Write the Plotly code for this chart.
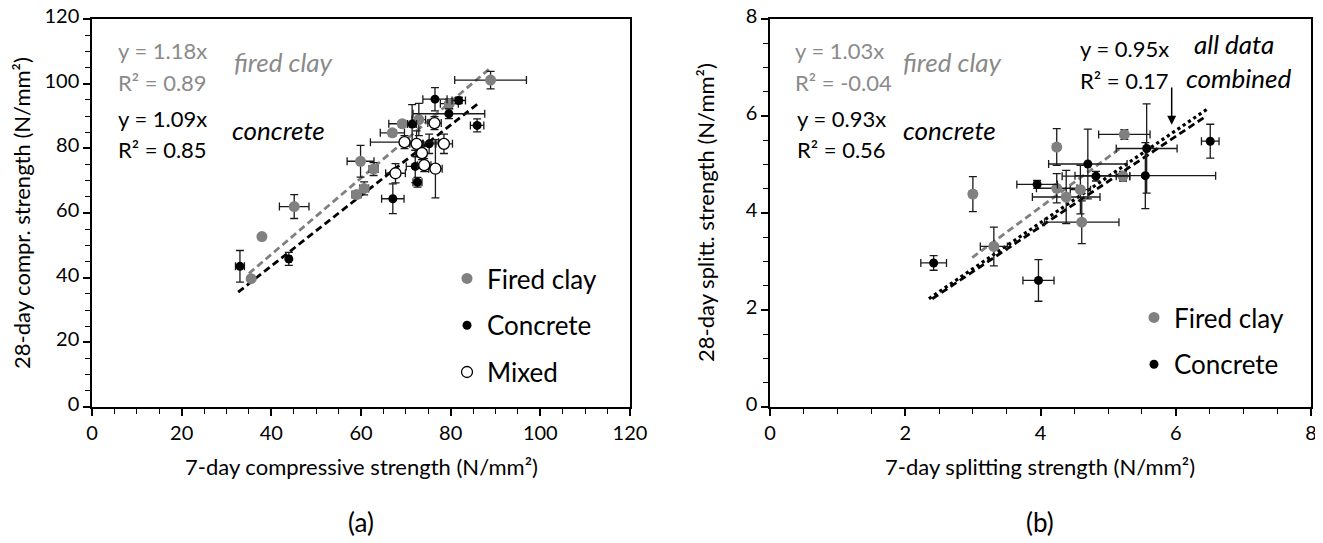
import plotly.graph_objects as go

# page is 1323x543, the html body adds an 8px margin
OFF = 8
W, H = 1323 - OFF, 543 - OFF


def fx(p):
    return (p - OFF) / W


def fy(p):
    return 1 - (p - OFF) / H


# ---- panel (a): compressive strength ----
fc_a_x = [88.9, 79.7, 72.9, 69.2, 67.0, 59.9, 62.8, 60.7, 59.0, 45.1, 37.9, 35.5]
fc_a_y = [101.1, 93.8, 88.9, 87.6, 84.8, 76.0, 73.6, 67.6, 65.7, 62.0, 52.7, 39.7]
fc_a_xe = [8.0, 2.0, 1.5, 3.0, 2.7, 3.0, 1.0, 1.0, 1.0, 3.3, 0.5, 0.5]
fc_a_ye = [2.7, 1.5, 5.0, 1.0, 1.0, 4.9, 2.0, 2.0, 1.0, 3.7, 0.5, 0.5]

con_a_x = [33.0, 43.9, 76.5, 81.8, 79.6, 71.4, 85.9, 75.2, 72.1, 72.6, 67.1]
con_a_y = [43.5, 45.8, 95.2, 94.8, 90.7, 87.5, 87.1, 81.4, 74.4, 69.5, 64.4]
con_a_xe = [1.0, 0.5, 2.7, 1.5, 8.0, 1.0, 1.5, 1.5, 2.0, 1.0, 2.5]
con_a_ye = [4.9, 2.0, 3.6, 1.0, 1.5, 6.0, 2.0, 3.0, 5.0, 1.5, 4.6]

mix_a_x = [76.4, 69.7, 72.4, 78.5, 73.6, 67.7, 74.1, 76.6]
mix_a_y = [87.8, 81.9, 81.4, 81.4, 78.5, 72.3, 74.8, 73.7]
mix_a_xe = [1.5, 7.6, 1.5, 1.9, 1.0, 2.2, 1.5, 1.5]
mix_a_ye = [2.0, 2.0, 4.0, 3.0, 2.0, 3.0, 2.0, 9.0]

# trend lines y = k*x
fit_a_fc_k, fit_a_fc_x = 1.18, [35.0, 89.0]
fit_a_con_k, fit_a_con_x = 1.09, [32.6, 86.2]

# ---- panel (b): splitting strength ----
fc_b_x = [3.0, 3.31, 4.24, 4.38, 4.59, 4.61, 5.22, 5.24, 4.24]
fc_b_y = [4.39, 3.31, 4.51, 4.33, 4.48, 3.81, 4.76, 5.62, 5.36]
fc_b_xe = [0.05, 0.2, 0.3, 0.5, 0.15, 0.55, 0.1, 0.38, 0.05]
fc_b_ye = [0.36, 0.4, 0.3, 0.55, 0.5, 0.44, 0.1, 0.1, 0.38]

con_b_x = [2.42, 3.97, 3.95, 4.70, 4.82, 5.55, 5.57, 6.51]
con_b_y = [2.97, 2.61, 4.59, 5.01, 4.76, 4.77, 5.33, 5.48]
con_b_xe = [0.19, 0.23, 0.3, 0.58, 0.5, 1.04, 0.45, 0.13]
con_b_ye = [0.15, 0.43, 0.08, 0.72, 0.1, 0.68, 0.92, 0.35]

fit_b_fc_k, fit_b_fc_x = 1.03, [2.99, 5.18]
fit_b_con_k, fit_b_con_x = 0.93, [2.40, 6.46]
fit_b_all_k, fit_b_all_x = 0.95, [2.35, 6.46]

GRAY = "#808080"
TXTGRAY = "#8a8a8a"
FONT = "Lato"


def err(vals):
    return dict(type="data", array=vals, visible=True, color="#1a1a1a",
                thickness=1.3, width=4)


def pts(x, y, xe, ye, name, color, xa, ya, legend, line_col=None, size=10):
    return go.Scatter(
        x=x, y=y, mode="markers", name=name,
        error_x=err(xe), error_y=err(ye),
        marker=dict(size=size, color=color,
                    line=dict(width=1.3 if line_col else 0, color=line_col or color)),
        xaxis=xa, yaxis=ya, legend=legend, legendgroup=name + legend,
    )


def fit(xs, k, color, dash, width, xa, ya):
    return go.Scatter(x=xs, y=[k * v for v in xs], mode="lines",
                      line=dict(color=color, dash=dash, width=width),
                      xaxis=xa, yaxis=ya, showlegend=False, hoverinfo="skip")


fig = go.Figure()

fig.add_trace(fit(fit_a_fc_x, fit_a_fc_k, GRAY, "7px,4px", 2.8, "x", "y"))
fig.add_trace(fit(fit_a_con_x, fit_a_con_k, "black", "7px,4px", 2.8, "x", "y"))
fig.add_trace(pts(fc_a_x, fc_a_y, fc_a_xe, fc_a_ye, "Fired clay", GRAY, "x", "y", "legend", size=11))
fig.add_trace(pts(con_a_x, con_a_y, con_a_xe, con_a_ye, "Concrete", "black", "x", "y", "legend", size=9))
fig.add_trace(pts(mix_a_x, mix_a_y, mix_a_xe, mix_a_ye, "Mixed", "white", "x", "y", "legend",
                  line_col="black", size=11))

fig.add_trace(fit(fit_b_fc_x, fit_b_fc_k, GRAY, "7px,4px", 2.8, "x2", "y2"))
fig.add_trace(fit(fit_b_con_x, fit_b_con_k, "black", "7px,4px", 2.8, "x2", "y2"))
fig.add_trace(fit(fit_b_all_x, fit_b_all_k, "black", "dot", 3.2, "x2", "y2"))
fig.add_trace(pts(fc_b_x, fc_b_y, fc_b_xe, fc_b_ye, "Fired clay", GRAY, "x2", "y2", "legend2", size=11))
fig.add_trace(pts(con_b_x, con_b_y, con_b_xe, con_b_ye, "Concrete", "black", "x2", "y2", "legend2", size=9))

tickfont = dict(family=FONT, size=20, color="black")


def axis(domain, rng, dtick, minor, anchor, shift=0):
    return dict(domain=domain, range=rng, dtick=dtick, tick0=0, anchor=anchor,
                showgrid=False, zeroline=False, showline=True, linecolor="black",
                linewidth=1.5, mirror=True, ticks="outside", ticklen=7, tickwidth=1.5,
                tickcolor="black", tickfont=tickfont, ticklabeloverflow="allow",
                ticklabelshift=shift,
                minor=dict(dtick=minor, ticks="outside", ticklen=5, tickwidth=1.3,
                           tickcolor="black", showgrid=False))


legfont = dict(family=FONT, size=26, color="black")

fig.update_layout(
    width=W, height=H,
    margin=dict(l=0, r=0, t=0, b=0, autoexpand=False),
    paper_bgcolor="white", plot_bgcolor="white",
    font=dict(family=FONT, color="black"),
    xaxis=axis([fx(92), fx(630)], [0, 120], 20, 5, "y"),
    yaxis=axis([fy(407), fy(19)], [0, 120], 20, 5, "x", shift=-3),
    xaxis2=axis([fx(770), fx(1311)], [0, 8], 2, 0.5, "y2"),
    yaxis2=axis([fy(407), fy(19)], [0, 8], 2, 0.5, "x2", shift=-3),
    legend=dict(x=fx(447), y=fy(255), xanchor="left", yanchor="top",
                font=legfont, bgcolor="rgba(0,0,0,0)",
                tracegroupgap=10, itemwidth=30),
    legend2=dict(x=fx(1134), y=fy(294), xanchor="left", yanchor="top",
                 font=legfont, bgcolor="rgba(0,0,0,0)",
                 tracegroupgap=10, itemwidth=30),
    showlegend=True,
)

anns = [
    # panel (a)
    ("y = 1.18x", 116, 50, TXTGRAY, False, 22, "left"),
    ("R² = 0.89", 116, 82, TXTGRAY, False, 22, "left"),
    ("fired clay", 232, 62, TXTGRAY, True, 26, "left"),
    ("y = 1.09x", 116, 118, "black", False, 22, "left"),
    ("R² = 0.85", 116, 149, "black", False, 22, "left"),
    ("concrete", 230, 130, "black", True, 26, "left"),
    # panel (b)
    ("y = 1.03x", 793, 50, TXTGRAY, False, 22, "left"),
    ("R² = -0.04", 793, 82, TXTGRAY, False, 22, "left"),
    ("fired clay", 901, 62, TXTGRAY, True, 26, "left"),
    ("y = 0.93x", 795, 118, "black", False, 22, "left"),
    ("R² = 0.56", 795, 149, "black", False, 22, "left"),
    ("concrete", 901, 130, "black", True, 26, "left"),
    ("y = 0.95x", 1078, 48, "black", False, 22, "left"),
    ("R² = 0.17", 1078, 80, "black", False, 22, "left"),
    ("all data", 1192, 44, "black", True, 26, "left"),
    ("combined", 1184, 78, "black", True, 26, "left"),
    # captions
    ("(a)", 361, 522, "black", False, 26, "center"),
    ("(b)", 1040, 522, "black", False, 26, "center"),
    ("7-day compressive strength (N/mm²)", 361, 466, "black", False, 22, "center"),
    ("7-day splitting strength (N/mm²)", 1040, 466, "black", False, 22, "center"),
]
for text, x, y, col, ital, size, anchor in anns:
    fig.add_annotation(x=fx(x), y=fy(y), xref="paper", yref="paper", text=text,
                       showarrow=False, xanchor=anchor, yanchor="middle",
                       font=dict(family=FONT, size=size, color=col,
                                 style="italic" if ital else "normal"))

for text, x in [("28-day compr. strength (N/mm²)", 22),
                ("28-day splitt. strength (N/mm²)", 706)]:
    fig.add_annotation(x=fx(x), y=fy(213), xref="paper", yref="paper", text=text,
                       textangle=-90, showarrow=False, xanchor="center", yanchor="middle",
                       font=dict(family=FONT, size=22, color="black"))

# arrow pointing at the combined fit
fig.add_annotation(x=5.94, y=5.82, xref="x2", yref="y2", ax=5.94, ay=6.62,
                   axref="x2", ayref="y2", text="", showarrow=True,
                   arrowhead=2, arrowsize=1.2, arrowwidth=1.5, arrowcolor="black")

fig.write_html("out.html")
